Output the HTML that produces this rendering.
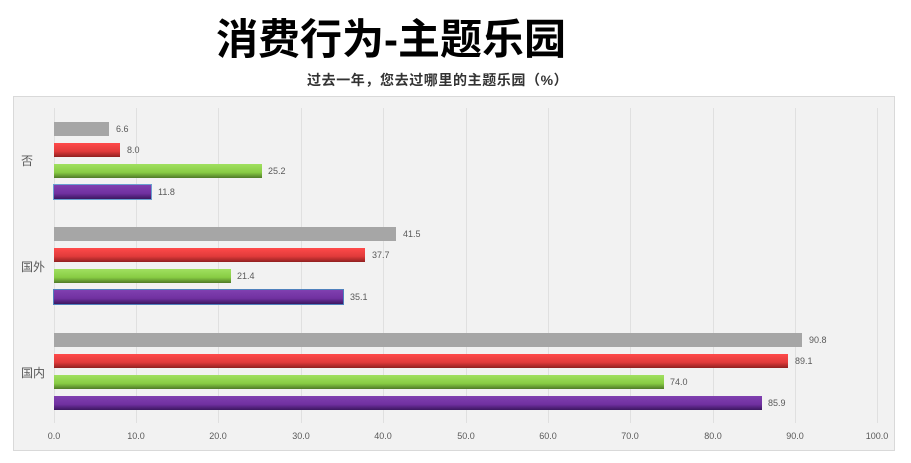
<!DOCTYPE html>
<html><head><meta charset="utf-8"><style>
body{margin:0;width:911px;height:463px;background:#fff;position:relative;overflow:hidden;font-family:"Liberation Sans","Noto Sans CJK SC",sans-serif}
.t{position:absolute;left:0;width:782px;text-align:center;top:14px;font-size:42px;font-weight:bold;color:#000;line-height:52px}
.st{position:absolute;left:307px;top:70px;font-size:14px;font-weight:bold;color:#333;letter-spacing:0.6px}
.box{position:absolute;left:13px;top:96px;width:880px;height:353px;background:#f2f2f2;border:1px solid #d9d9d9}
.g{position:absolute;top:108px;width:1px;height:315px;background:#e0e0e0}
.b{position:absolute;left:54px;height:14px}
.gr{background:#a6a6a6}
.r{background:linear-gradient(#ff4a4a,#e03a3a 60%,#902020)}
.gn{background:linear-gradient(#a0e060,#88cc44 60%,#4f7a28)}
.p{background:linear-gradient(#8040b0,#7030a0 60%,#3c1860)}
.l{position:absolute;font-size:9px;color:#595959}
.c{position:absolute;left:21px;font-size:12px;color:#595959}
.x{position:absolute;top:431px;font-size:9px;color:#595959;width:40px;text-align:center}
</style></head><body>
<div class="t">消费行为-主题乐园</div>
<div class="st">过去一年，您去过哪里的主题乐园（%）</div>
<div class="box"></div>
<div class="g" style="left:54px"></div><div class="g" style="left:136px"></div><div class="g" style="left:218px"></div><div class="g" style="left:301px"></div><div class="g" style="left:383px"></div><div class="g" style="left:466px"></div><div class="g" style="left:548px"></div><div class="g" style="left:630px"></div><div class="g" style="left:713px"></div><div class="g" style="left:795px"></div><div class="g" style="left:877px"></div>
<div class="c" style="top:152px">否</div><div class="c" style="top:258px">国外</div><div class="c" style="top:364px">国内</div>

<div class="b gr" style="top:122px;width:55px"></div><div class="l" style="left:116px;top:124px">6.6</div>
<div class="b r" style="top:143px;width:66px"></div><div class="l" style="left:127px;top:145px">8.0</div>
<div class="b gn" style="top:164px;width:208px"></div><div class="l" style="left:268px;top:166px">25.2</div>
<div class="b p" style="top:185px;width:97px;box-shadow:0 0 0 1px #6a9fd0"></div><div class="l" style="left:158px;top:187px">11.8</div>

<div class="b gr" style="top:227px;width:342px"></div><div class="l" style="left:403px;top:229px">41.5</div>
<div class="b r" style="top:248px;width:311px"></div><div class="l" style="left:372px;top:250px">37.7</div>
<div class="b gn" style="top:269px;width:177px"></div><div class="l" style="left:237px;top:271px">21.4</div>
<div class="b p" style="top:290px;width:289px;box-shadow:0 0 0 1px #4f81bd"></div><div class="l" style="left:350px;top:292px">35.1</div>

<div class="b gr" style="top:333px;width:748px"></div><div class="l" style="left:809px;top:335px">90.8</div>
<div class="b r" style="top:354px;width:734px"></div><div class="l" style="left:795px;top:356px">89.1</div>
<div class="b gn" style="top:375px;width:610px"></div><div class="l" style="left:670px;top:377px">74.0</div>
<div class="b p" style="top:396px;width:708px"></div><div class="l" style="left:768px;top:398px">85.9</div>

<div class="x" style="left:34px">0.0</div><div class="x" style="left:116px">10.0</div><div class="x" style="left:198px">20.0</div><div class="x" style="left:281px">30.0</div><div class="x" style="left:363px">40.0</div><div class="x" style="left:446px">50.0</div><div class="x" style="left:528px">60.0</div><div class="x" style="left:610px">70.0</div><div class="x" style="left:693px">80.0</div><div class="x" style="left:775px">90.0</div><div class="x" style="left:857px">100.0</div>
</body></html>
